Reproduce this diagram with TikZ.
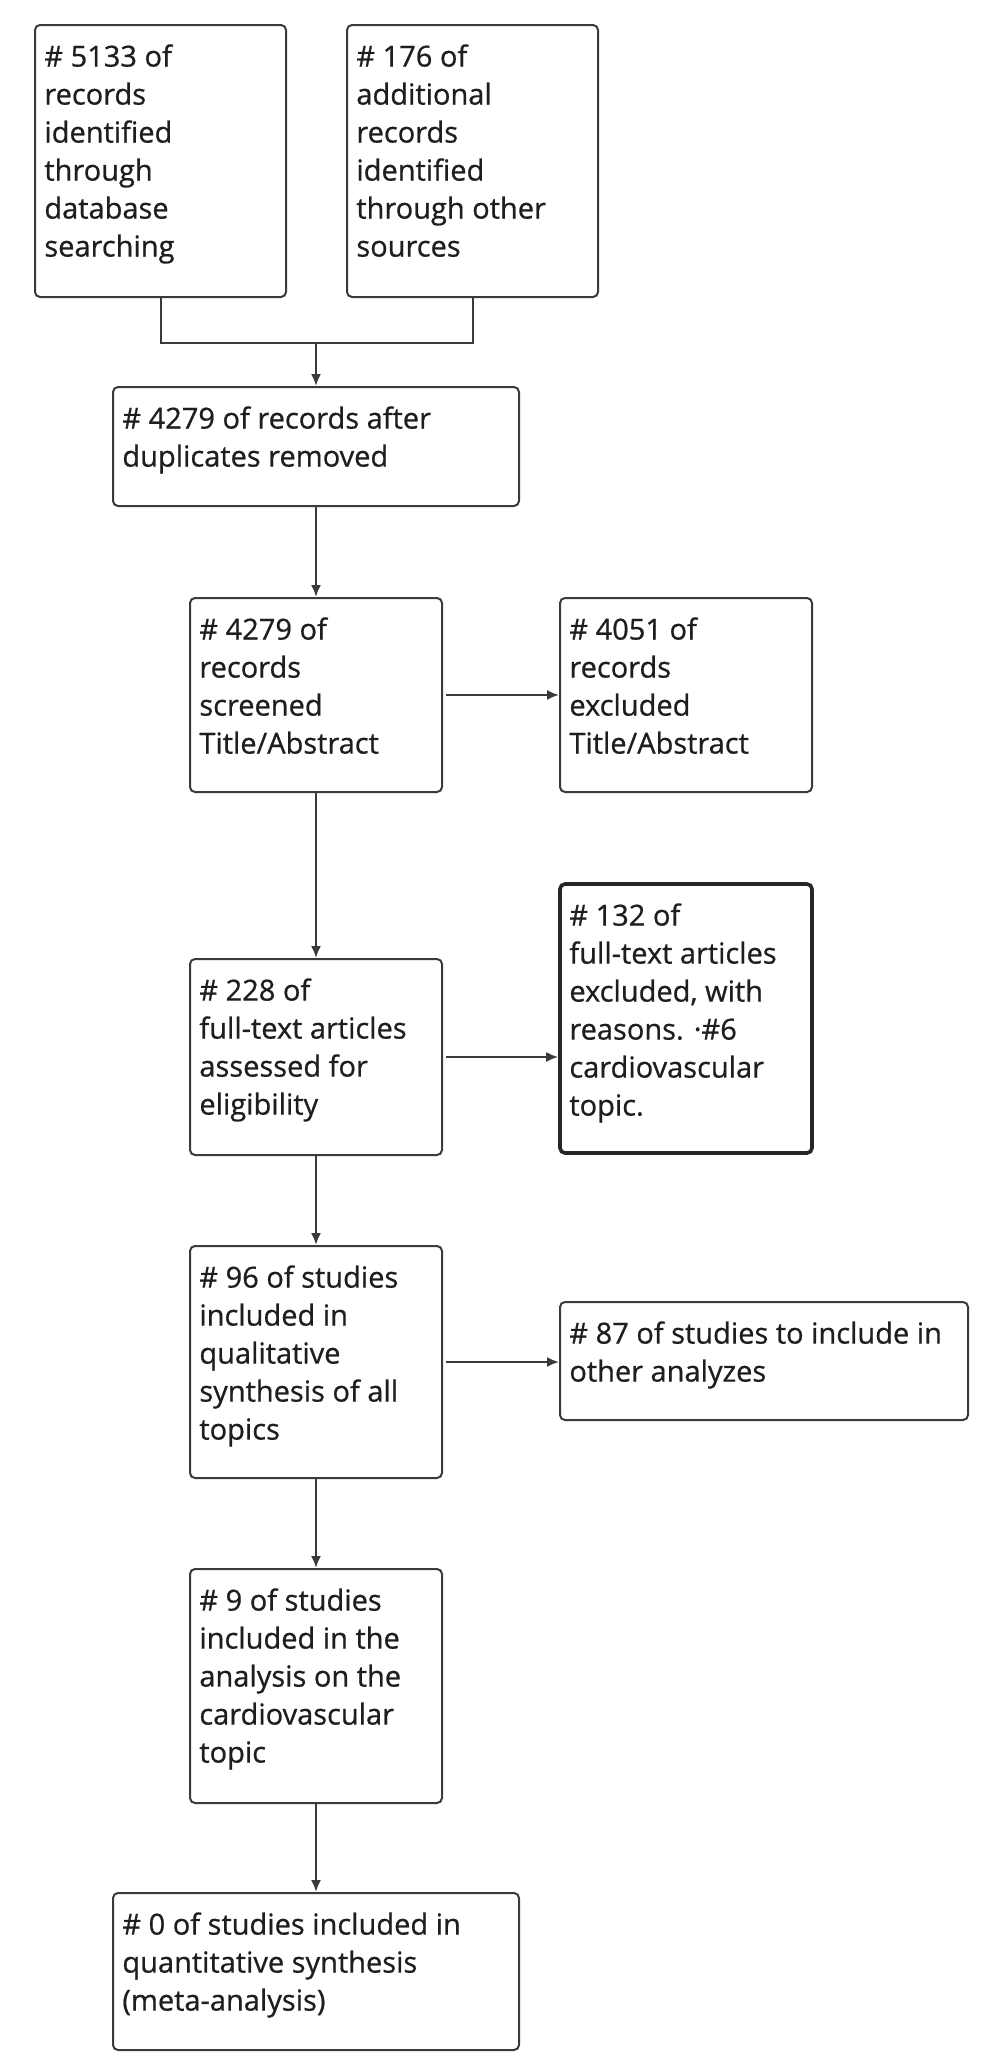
\documentclass[tikz,border=0pt]{standalone}
\usepackage{fontspec}
\setmainfont{Open Sans}[FakeBold=0.7]
\usetikzlibrary{arrows.meta}
\definecolor{ln}{HTML}{3A3A3A}
\definecolor{tx}{HTML}{1E1E1E}
\begin{document}
\begin{tikzpicture}[x=0.5pt,y=-0.5pt,
  prbox/.style={draw=ln, line width=1pt, rounded corners=2.5pt, inner sep=0pt},
  thickbox/.style={prbox, line width=1.8pt, draw=black!85},
  prtext/.style={anchor=north west, inner sep=0pt, align=left, text=tx,
    font=\fontsize{14.5pt}{19pt}\selectfont},
  link/.style={draw=ln, line width=1pt},
  arr/.style={link, -{Latex[length=6pt,width=5pt]}}]
\useasboundingbox (0,0) rectangle (1000,2072);
\fill[white] (0,0) rectangle (1000,2072);

% boxes
\node[prbox, minimum width=125.5pt, minimum height=136pt] (b1) at (160.5,161) {};
\node[prbox, minimum width=125.5pt, minimum height=136pt] (b2) at (472.5,161) {};
\node[prbox, minimum width=203pt, minimum height=59.5pt] (b3) at (316,446.5) {};
\node[prbox, minimum width=126pt, minimum height=97pt] (b4) at (316,695) {};
\node[prbox, minimum width=126pt, minimum height=97pt] (b5) at (686,695) {};
\node[prbox, minimum width=126pt, minimum height=98pt] (b6) at (316,1057) {};
\node[thickbox, minimum width=126pt, minimum height=134.5pt] (b7) at (686,1018.5) {};
\node[prbox, minimum width=126pt, minimum height=116pt] (b8) at (316,1362) {};
\node[prbox, minimum width=204pt, minimum height=59pt] (b9) at (764,1361) {};
\node[prbox, minimum width=126pt, minimum height=117pt] (b10) at (316,1686) {};
\node[prbox, minimum width=203pt, minimum height=78.5pt] (b11) at (316,1971.5) {};

% texts
\node[prtext] (t1) at (44,44) {\# 5133 of\\records\\identified\\through\\database\\searching};
\node[prtext] (t2) at (356,44) {\# 176 of\\additional\\records\\identified\\through other\\sources};
\node[prtext] (t3) at (122,406) {\# 4279 of records after\\duplicates removed};
\node[prtext] (t4) at (199,617) {\# 4279 of\\records\\screened\\Title/Abstract};
\node[prtext] (t5) at (569,617) {\# 4051 of\\records\\excluded\\Title/Abstract};
\node[prtext] (t6) at (199,978) {\# 228 of\\full-text articles\\assessed for\\eligibility};
\node[prtext] (t7) at (569,903) {\# 132 of\\full-text articles\\excluded, with\\reasons. ·\#6\\cardiovascular\\topic.};
\node[prtext] (t8) at (199,1265) {\# 96 of studies\\included in\\qualitative\\synthesis of all\\topics};
\node[prtext] (t9) at (569,1321) {\# 87 of studies to include in\\other analyzes};
\node[prtext] (t10) at (199,1588) {\# 9 of studies\\included in the\\analysis on the\\cardiovascular\\topic};
\node[prtext] (t11) at (122,1912) {\# 0 of studies included in\\quantitative synthesis\\(meta-analysis)};

% connectors
\coordinate (j) at (316,343);
\draw[link] (b1.south) |- (j) -| (b2.south);
\draw[arr] (j) -- (b3.north);
\draw[arr] (b3.south) -- (b4.north);
\draw[arr, shorten <=1.5pt] (b4.east) -- (b5.west);
\draw[arr] (b4.south) -- (b6.north);
\draw[arr, shorten <=1.5pt] (b6.east) -- (b6.east -| b7.west);
\draw[arr] (b6.south) -- (b8.north);
\draw[arr, shorten <=1.5pt] (b8.east) -- (b8.east -| b9.west);
\draw[arr] (b8.south) -- (b10.north);
\draw[arr] (b10.south) -- (b11.north);
\end{tikzpicture}
\end{document}
